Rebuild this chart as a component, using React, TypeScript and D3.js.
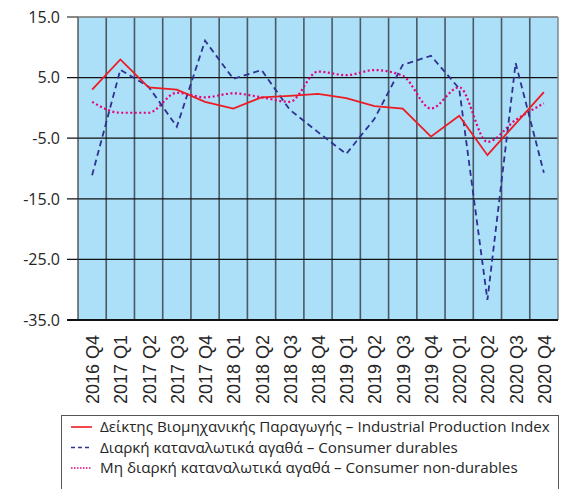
import * as d3 from "d3";
import { useRef, useEffect } from "react";

const quarters = [
  "2016 Q4", "2017 Q1", "2017 Q2", "2017 Q3", "2017 Q4",
  "2018 Q1", "2018 Q2", "2018 Q3", "2018 Q4",
  "2019 Q1", "2019 Q2", "2019 Q3", "2019 Q4",
  "2020 Q1", "2020 Q2", "2020 Q3", "2020 Q4",
];

const industrial = [3.0, 8.0, 3.4, 3.0, 1.0, -0.1, 1.75, 2.0, 2.3, 1.6, 0.3, -0.1, -4.75, -1.3, -7.8, -2.6, 2.6];
const durables = [-11.1, 6.3, 3.5, -3.1, 11.1, 4.8, 6.25, -0.3, -4.0, -7.6, -1.8, 7.1, 8.6, 3.2, -31.7, 7.4, -10.7];
const nonDurables = [1.0, -0.8, -0.8, 2.5, 1.75, 2.4, 1.75, 1.0, 6.0, 5.4, 6.25, 5.3, -0.1, 3.4, -5.6, -2.0, 0.75];

const yTicks = [15, 5, -5, -15, -25, -35];

const legendLabels = [
  "Δείκτης Βιομηχανικής Παραγωγής – Industrial Production Index",
  "Διαρκή καταναλωτικά αγαθά – Consumer durables",
  "Μη διαρκή καταναλωτικά αγαθά – Consumer non-durables",
];

const App = () => {
  const chartRef = useRef(null);

  const width = 561;
  const height = 489;
  const margin = { top: 17, left: 78, right: 3, bottom: 169 };

  useEffect(() => {
    const svg = d3.select(chartRef.current);
    svg.selectAll("*").remove();

    const innerW = width - margin.left - margin.right;
    const plotBottom = height - margin.bottom;

    const x = d3.scaleBand().domain(quarters).range([margin.left, margin.left + innerW]);
    const y = d3.scaleLinear().domain([-35, 15]).range([plotBottom, margin.top]);

    // plot background
    svg.append("rect")
      .attr("x", margin.left)
      .attr("y", margin.top)
      .attr("width", innerW)
      .attr("height", plotBottom - margin.top)
      .style("fill", "#acdff8");

    // vertical grid at band boundaries
    svg.append("g")
      .selectAll("line")
      .data(quarters.slice(1))
      .enter()
      .append("line")
      .attr("x1", d => x(d))
      .attr("x2", d => x(d))
      .attr("y1", margin.top)
      .attr("y2", plotBottom)
      .style("stroke", "#4a5a66")
      .style("stroke-width", 1.6);

    // horizontal grid
    svg.append("g")
      .selectAll("line")
      .data(yTicks)
      .enter()
      .append("line")
      .attr("x1", margin.left - 11)
      .attr("x2", margin.left + innerW)
      .attr("y1", d => y(d))
      .attr("y2", d => y(d))
      .style("stroke", "#111")
      .style("stroke-width", 1.2);

    // plot frame
    svg.append("line")
      .attr("x1", margin.left).attr("x2", margin.left)
      .attr("y1", margin.top).attr("y2", plotBottom)
      .style("stroke", "#333").style("stroke-width", 1.2);
    svg.append("line")
      .attr("x1", margin.left + innerW).attr("x2", margin.left + innerW)
      .attr("y1", margin.top).attr("y2", plotBottom)
      .style("stroke", "#7a8a94").style("stroke-width", 1.5);
    svg.append("line")
      .attr("x1", margin.left).attr("x2", margin.left + innerW)
      .attr("y1", margin.top).attr("y2", margin.top)
      .style("stroke", "#999").style("stroke-width", 1.5);
    svg.append("line")
      .attr("x1", margin.left - 11).attr("x2", margin.left + innerW)
      .attr("y1", plotBottom).attr("y2", plotBottom)
      .style("stroke", "#111").style("stroke-width", 2);

    // y labels
    svg.append("g")
      .selectAll("text")
      .data(yTicks)
      .enter()
      .append("text")
      .attr("x", margin.left - 18)
      .attr("y", d => y(d))
      .attr("dy", "0.36em")
      .attr("text-anchor", "end")
      .style("font-family", "'Open Sans', sans-serif")
      .style("font-size", "16px")
      .style("fill", "#262626")
      .text(d => d.toFixed(1));

    // x labels
    svg.append("g")
      .selectAll("text")
      .data(quarters)
      .enter()
      .append("text")
      .attr("transform", d => `translate(${x(d) + x.bandwidth() / 2 + 7}, ${plotBottom + 15}) rotate(-90)`)
      .attr("text-anchor", "end")
      .style("font-family", "'Liberation Sans', Arial, sans-serif")
      .style("font-size", "18px")
      .style("fill", "#262626")
      .text(d => d);

    const cx = (i) => x(quarters[i]) + x.bandwidth() / 2;

    const series = [
      { values: nonDurables, color: "#e5007d", dash: "2,2.5", width: 2.2, curve: d3.curveMonotoneX },
      { values: durables, color: "#2e3192", dash: "6,4", width: 1.8, curve: d3.curveLinear },
      { values: industrial, color: "#ed1c24", dash: null, width: 1.8, curve: d3.curveLinear },
    ];

    series.forEach(s => {
      const line = d3.line()
        .x((d, i) => cx(i))
        .y(d => y(d))
        .curve(s.curve);
      svg.append("path")
        .datum(s.values)
        .attr("d", line)
        .style("fill", "none")
        .style("stroke", s.color)
        .style("stroke-width", s.width)
        .style("stroke-dasharray", s.dash);
    });

    // legend
    const legend = svg.append("g");
    legend.append("rect")
      .attr("x", 61.5)
      .attr("y", 415.5)
      .attr("width", 497)
      .attr("height", 90)
      .style("fill", "white")
      .style("stroke", "#555")
      .style("stroke-width", 1);

    const legendStyles = [
      { color: "#ed1c24", dash: null, width: 1.6 },
      { color: "#2e3192", dash: "4,3", width: 1.6 },
      { color: "#e5007d", dash: "1.5,1.5", width: 1.6 },
    ];

    legendLabels.forEach((label, i) => {
      const ly = 427 + i * 20.5;
      legend.append("line")
        .attr("x1", 71).attr("x2", 92)
        .attr("y1", ly).attr("y2", ly)
        .style("stroke", legendStyles[i].color)
        .style("stroke-width", legendStyles[i].width)
        .style("stroke-dasharray", legendStyles[i].dash);
      legend.append("text")
        .attr("x", 100)
        .attr("y", ly)
        .attr("dy", "0.35em")
        .style("font-family", "'Open Sans', sans-serif")
        .style("font-size", "15.2px")
        .style("fill", "#262626")
        .text(label);
    });
  }, []);

  return (
    <svg
      ref={chartRef}
      width={width}
      height={height}
      style={{ position: "absolute", left: 0, top: 0, background: "white" }}
    ></svg>
  );
};

export default App;
